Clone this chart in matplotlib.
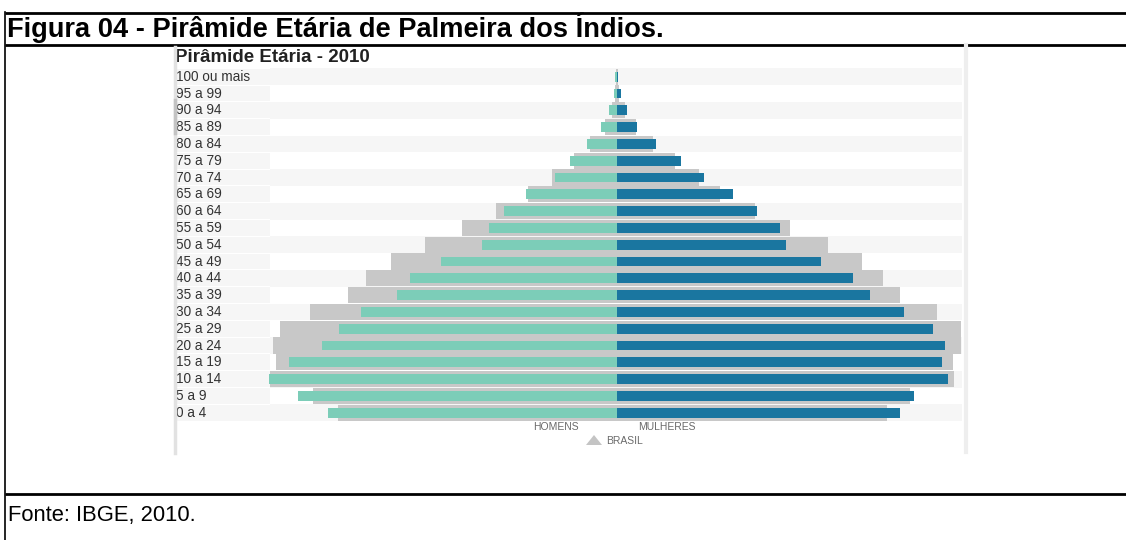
import matplotlib
matplotlib.use("Agg")
import matplotlib.pyplot as plt
from matplotlib.patches import Polygon
import numpy as np

# ---------------- data (percent of population) ----------------
age_groups = ["100 ou mais", "95 a 99", "90 a 94", "85 a 89", "80 a 84", "75 a 79",
              "70 a 74", "65 a 69", "60 a 64", "55 a 59", "50 a 54", "45 a 49",
              "40 a 44", "35 a 39", "30 a 34", "25 a 29", "20 a 24", "15 a 19",
              "10 a 14", "5 a 9", "0 a 4"]
homens = [0.02, 0.04, 0.10, 0.21, 0.39, 0.62, 0.82, 1.20, 1.49, 1.69, 1.77, 2.32,
          2.72, 2.89, 3.37, 3.66, 3.88, 4.31, 4.58, 4.20, 3.80]
mulheres = [0.01, 0.05, 0.13, 0.26, 0.51, 0.84, 1.15, 1.53, 1.84, 2.14, 2.22, 2.69,
            3.10, 3.33, 3.77, 4.16, 4.31, 4.28, 4.35, 3.91, 3.72]
brasil_homens = [0.01, 0.02, 0.06, 0.16, 0.35, 0.57, 0.86, 1.17, 1.59, 2.04, 2.53, 2.98,
                 3.30, 3.54, 4.04, 4.43, 4.52, 4.49, 4.57, 4.00, 3.67]
brasil_mulheres = [0.01, 0.03, 0.11, 0.25, 0.48, 0.76, 1.08, 1.36, 1.82, 2.28, 2.78, 3.22,
                   3.50, 3.73, 4.21, 4.53, 4.52, 4.42, 4.43, 3.85, 3.55]

fig_title = "Figura 04 - Pirâmide Etária de Palmeira dos Índios."
chart_title = "Pirâmide Etária - 2010"
source = "Fonte: IBGE, 2010."

# ---------------- figure ----------------
W, H = 1126, 540
fig = plt.figure(figsize=(W / 100, H / 100), dpi=100)
fig.patch.set_facecolor("white")
FONT = ["Liberation Sans", "DejaVu Sans"]

def fx(px):
    return px / W

def fy(py):
    return 1 - py / H

# table borders (document frame)
frame = fig.add_axes([0, 0, 1, 1], zorder=5)
frame.set_xlim(0, W)
frame.set_ylim(H, 0)
frame.axis("off")
frame.patch.set_alpha(0)
for y in (13, 44.5, 494):
    frame.plot([5, W], [y, y], color="black", lw=2.0, solid_capstyle="butt")
frame.plot([5, 5], [12, H], color="black", lw=1.2)

fig.text(fx(7), fy(28), fig_title, fontsize=19.6, fontweight="bold",
         family=FONT, va="center", ha="left", color="black")
fig.text(fx(8), fy(515), source, fontsize=15.8, family=FONT,
         va="center", ha="left", color="black")

# ---------------- chart axes ----------------
center_px = 617.0
px_per_pct = 76.0
row0_px = 76.7
row_h = 16.8
left_px, right_px = 175.0, 965.0
top_px, bot_px = 47.0, 453.0

ax = fig.add_axes([fx(left_px), fy(bot_px), (right_px - left_px) / W,
                   (bot_px - top_px) / H])
ax.set_xlim((left_px - center_px) / px_per_pct, (right_px - center_px) / px_per_pct)
ax.set_ylim((bot_px - row0_px) / row_h, (top_px - row0_px) / row_h)
ax.axis("off")

n = len(age_groups)
ypos = np.arange(n)
xl = ax.get_xlim()
label_end = (270 - center_px) / px_per_pct
band_end = (962 - center_px) / px_per_pct

# background bands
for i in ypos:
    ax.barh(i, label_end - xl[0], left=xl[0], height=0.94, color="#f6f6f6", zorder=0)
    if i % 2 == 0:
        ax.barh(i, band_end - label_end, left=label_end, height=1.0,
                color="#f6f6f6", zorder=0)

# Brasil reference (gray)
ax.barh(ypos, [-v for v in brasil_homens], height=0.96, color="#c8c8c8", zorder=1)
ax.barh(ypos, brasil_mulheres, height=0.96, color="#c8c8c8", zorder=1)

# Palmeira dos Índios
ax.barh(ypos, [-v for v in homens], height=0.58, color="#7ccdb8", zorder=2)
ax.barh(ypos, mulheres, height=0.58, color="#1a76a0", zorder=2)

# age labels
for i, lab in zip(ypos, age_groups):
    ax.text(xl[0] + 0.01, i, lab, fontsize=9.8, family=FONT, color="#333333",
            va="center", ha="left", zorder=3)

# chart title
fig.text(fx(175), fy(58), chart_title, fontsize=13.5, fontweight="bold",
         family=FONT, va="center", ha="left", color="#222222")

# panel edges
frame.plot([175, 175], [47, 453], color="#e2e2e2", lw=2.5)
frame.plot([175, 175], [100, 133], color="#c4c4c4", lw=2.5)
frame.plot([966, 966], [45, 452], color="#eeeeee", lw=3)

# legend texts
fig.text(fx(556), fy(427), "HOMENS", fontsize=7.5, family=FONT, color="#6a6a6a",
         ha="center", va="center")
fig.text(fx(667), fy(427), "MULHERES", fontsize=7.5, family=FONT, color="#6a6a6a",
         ha="center", va="center")
frame.add_patch(Polygon([[586, 445], [602, 445], [594, 435]], closed=True,
                        facecolor="#c4c4c4", edgecolor="none"))
fig.text(fx(606), fy(441), "BRASIL", fontsize=7.5, family=FONT, color="#6a6a6a",
         ha="left", va="center")

fig.savefig("out.png", dpi=100, facecolor="white")
